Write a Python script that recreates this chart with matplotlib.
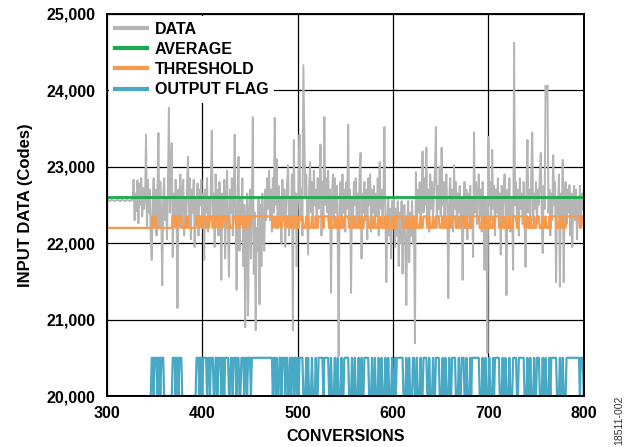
import numpy as np
import matplotlib.pyplot as plt
from matplotlib.ticker import FuncFormatter

# nilai DATA per konversi, 300..800
data = [
    22560, 22570, 22560, 22550, 22560, 22570, 22560, 22560, 22550, 22560,
    22560, 22570, 22560, 22560, 22550, 22560, 22570, 22560, 22560, 22550,
    22560, 22570, 22560, 22560, 22550, 22560, 22570, 22560,
    22830, 22300, 22650, 22420, 22820, 22260, 22780, 22500, 22850, 22350, 22720, 22450,
    22600, 23420, 22200, 22830, 22400, 22700, 22050, 21780, 22550, 22850,
    22300, 22700, 22100, 22650, 23440, 22200, 22800, 22350, 21450, 22600,
    22850, 22300, 22600, 22050, 22800, 23770, 22400, 22900, 23310, 21820,
    22650, 22300, 22830, 22450, 21150, 22700, 22300, 22900, 22200, 22650,
    22830, 22100, 22600, 22350, 22780, 23130, 22250, 22850, 22050, 22700,
    22400, 22830, 21950, 22600, 22300, 22780, 22100, 22700, 22500, 22830,
    22200, 22650, 21780, 22700, 22400, 22850, 22150, 22600, 22300, 22750,
    23470, 22200, 22650, 21950, 22900, 22350, 22700, 22100, 22800, 22400,
    21520, 22650, 22300, 22830, 21800, 22600, 22950, 22200, 21560, 22700,
    22400, 22850, 22100, 22600, 23420, 22300, 21390, 22550, 23130, 21900,
    22600, 22250, 22850, 21700, 22500, 20900, 22300, 22650, 21050, 22400,
    22700, 21800, 22550, 23650, 21600, 22400, 20860, 22200, 21900, 22600,
    21200, 22500, 21700, 22650, 22100, 21900, 22700, 22300, 22850, 22450,
    22950, 22300, 22700, 22150, 22850, 22400, 23640, 22500, 23100, 22200,
    22750, 22350, 22600, 22000, 22830, 22300, 22700, 21950, 22500, 22800,
    23020, 22100, 22600, 22300, 22900, 20860, 23350, 22200, 22650, 21700,
    22400, 22800, 23420, 22300, 22700, 22100, 24330, 23420, 22600, 22900,
    22350, 21850, 22700, 23060, 22400, 22800, 22250, 22950, 22500, 22700,
    22200, 22850, 22450, 22600, 23290, 22100, 22800, 22300, 23650, 22500,
    22850, 22400, 22950, 22200, 22700, 21350, 22600, 22900, 22300, 22850,
    22400, 22750, 22100, 20520, 22600, 22800, 22250, 22900, 22400, 22700,
    22150, 22800, 22450, 23550, 22300, 22700, 21350, 22600, 22250, 22800,
    22500, 22850, 22200, 22650, 22350, 22900, 23180, 21800, 22650, 22400,
    22800, 22300, 22700, 22050, 22850, 22500, 22900, 22150, 22700, 22400,
    22750, 22200, 22650, 22350, 22850, 22100, 23060, 22450, 22700, 22250,
    22600, 23520, 22400, 21490, 22300, 22600, 22100, 22450, 21800, 22550,
    22200, 22600, 21950, 22450, 22100, 22550, 21700, 22400, 22000, 22550,
    21600, 22350, 22500, 21900, 21190, 22300, 22550, 21750, 22400, 22100,
    22550, 22000, 22350, 20690, 22930, 22200, 22700, 22400, 22800, 22300,
    22600, 23200, 22400, 22850, 22500, 23250, 22300, 22700, 22150, 22900,
    22450, 22800, 22300, 22650, 22950, 23520, 22200, 22750, 22450, 23000,
    22350, 23250, 22500, 22800, 22250, 22700, 22900, 22400, 21280, 22600,
    22850, 22300, 22700, 22150, 23020, 22450, 22800, 22200, 22650, 22400,
    22750, 22200, 22600, 21520, 22500, 22800, 22300, 22700, 22050, 22650,
    22350, 22750, 22200, 22600, 21820, 23450, 22400, 22800, 22250, 22650,
    22900, 22350, 22700, 22150, 22800, 22400, 21650, 22600, 22300, 20560,
    23390, 22500, 22800, 22300, 23220, 22450, 22750, 22100, 22700, 22400,
    22850, 22200, 22650, 21850, 22750, 22350, 22600, 22900, 22450, 21320,
    22700, 22300, 22850, 22150, 22600, 22400, 21650, 24620, 22500, 22800,
    22300, 22700, 22100, 22850, 22450, 22650, 22250, 22800, 22500, 21690,
    22750, 23350, 22400, 22700, 22200, 22900, 23450, 22300, 22650, 22450,
    22800, 22250, 22700, 22500, 22900, 23180, 22350, 21870, 22750, 22450,
    24060, 23900, 24060, 22400, 22700, 22100, 22650, 22300, 23150, 22500,
    22800, 21490, 22600, 22350, 22900, 21430, 22650, 22300, 23090, 21490,
    22600, 22800, 22250, 22700, 22400, 22760, 22100, 22650, 21950, 22550,
    22750, 22300, 22700, 22050, 22600, 22350, 22750, 22200, 22650, 22450,
    22700,
]

rata_rata = 22600
ambang_rendah, ambang_tinggi = 22200, 22350
flag_rendah, flag_tinggi = 20000, 20500

# panjang run bergantian (rendah, tinggi, rendah, ...) mulai dari konversi 300
flag_runs = [
    47, 2, 1, 3, 1, 2, 1, 3, 9, 3, 1, 2, 1, 3, 15,
    3, 1, 2, 1, 4, 1, 2, 1, 3, 2, 2, 1, 3, 1, 2, 1, 4, 2, 2, 1, 3, 1, 2, 2, 3, 1, 2, 1, 3, 1,
    22, 1, 2, 1, 1, 2, 2, 1, 3, 1, 2, 2, 1, 1, 2, 1, 2,
    1, 1, 1, 4, 3, 1, 1, 1, 3, 1, 3, 1, 2, 5, 1, 5, 2, 1, 3, 1, 2, 1, 3, 1, 2, 5,
    3, 1, 2, 1, 3, 1, 2, 1, 2, 5, 3, 1, 2, 1, 3, 1, 2, 1, 3, 1, 2, 1, 3, 1, 2, 1, 1, 7,
    3, 1, 2, 1, 3, 2, 2, 1, 3, 1, 2, 4, 2, 1, 3, 1, 2, 4, 3, 1, 2, 1, 3, 1, 2, 4,
    3, 1, 2, 3, 2, 1, 3, 1, 1, 8,
    3, 1, 2, 1, 3, 1, 3, 1, 1, 5, 3, 1, 2, 1, 3, 1, 3, 4, 2, 6,
    3, 1, 2, 1, 3, 1, 2, 3, 3, 1, 2, 1, 3, 1, 1, 6, 3, 1, 2, 1, 3, 14, 1, 3,
]

ambang_runs = [
    48, 1, 1, 2, 17, 3, 1, 2, 1, 3, 4, 1, 1, 1, 8,
    3, 1, 2, 1, 3, 1, 2, 1, 3, 1, 2, 1, 3, 1, 2, 1, 3, 1, 3, 4,
    3, 1, 2, 1, 3, 1, 2, 1, 3, 1, 23, 1, 2, 1, 1, 2, 2, 1, 3, 1, 2, 2, 1, 1, 2, 1, 2,
    1, 1, 1, 4, 3, 1, 1, 1, 3, 1, 3, 1, 2, 5, 1, 5, 2, 1, 3, 1, 2, 1, 3, 1, 2, 5,
    3, 1, 2, 1, 3, 1, 2, 1, 2, 5, 3, 1, 2, 1, 3, 1, 2, 1, 3, 1, 2, 1, 3, 1, 2, 1, 1, 7,
    3, 1, 2, 1, 3, 2, 2, 1, 3, 1, 2, 4, 2, 1, 3, 1, 2, 4, 3, 1, 2, 1, 3, 1, 2, 4,
    3, 1, 2, 3, 2, 1, 3, 1, 1, 8,
    3, 1, 2, 1, 3, 1, 3, 1, 1, 5, 3, 1, 2, 1, 3, 1, 3, 4, 2, 6,
    3, 1, 2, 1, 3, 1, 2, 3, 3, 1, 2, 1, 3, 1, 1, 6, 3, 1, 2, 1, 3, 14, 1, 3,
]


def dari_runs(runs, rendah, tinggi, n):
    hasil = []
    for i, r in enumerate(runs):
        hasil += [tinggi if i % 2 else rendah] * r
    hasil = (hasil + [rendah] * n)[:n]
    return np.array(hasil)


konversi = np.arange(300, 300 + len(data))
n = len(konversi)
flag = dari_runs(flag_runs, flag_rendah, flag_tinggi, n)
ambang = dari_runs(ambang_runs, ambang_rendah, ambang_tinggi, n)

plt.rcParams['font.family'] = ['Liberation Sans', 'DejaVu Sans']
plt.rcParams['font.weight'] = 'bold'

fig = plt.figure(figsize=(6.29, 4.47), dpi=100)
ax = fig.add_axes([0.170, 0.114, 0.758, 0.855])

ax.plot(konversi, data, color='#b5b5b5', lw=1.4, label='DATA', zorder=3)
ax.plot(konversi, np.full(n, rata_rata), color='#17ad4f', lw=2.0, label='AVERAGE', zorder=4)
ax.plot(konversi, ambang, color='#f79a4b', lw=1.6, label='THRESHOLD', zorder=4)
ax.plot(konversi, flag, color='#48a9c5', lw=1.6, label='OUTPUT FLAG', zorder=4)

ax.set_xlim(300, 800)
ax.set_ylim(20000, 25000)
ax.set_xticks([300, 400, 500, 600, 700, 800])
ax.set_yticks([20000, 21000, 22000, 23000, 24000, 25000])
ax.yaxis.set_major_formatter(FuncFormatter(lambda v, p: f'{int(v):,}'))
ax.grid(True, color='black', lw=0.9, zorder=1)
ax.set_axisbelow(True)
ax.tick_params(length=0, labelsize=11.5)
ax.tick_params(axis='y', pad=8)
ax.tick_params(axis='x', pad=7)
for s in ax.spines.values():
    s.set_linewidth(1.4)
    s.set_zorder(6)

ax.set_xlabel('CONVERSIONS', fontsize=11.5, fontweight='bold', labelpad=6)
ax.set_ylabel('INPUT DATA (Codes)', fontsize=12, fontweight='bold', labelpad=10)

leg = ax.legend(loc='upper left', frameon=True, fancybox=False, fontsize=11.5,
                handlelength=2.0, handletextpad=0.5, labelspacing=0.32,
                borderaxespad=0.15, borderpad=0.35)
leg.get_frame().set_edgecolor('none')
leg.get_frame().set_facecolor('white')
leg.get_frame().set_alpha(1)
for h in leg.get_lines():
    h.set_linewidth(3)
leg.set_zorder(5)

fig.text(0.985, 0.06, '18511-002', rotation=90, fontsize=7.5, fontweight='normal',
         ha='center', va='center', color='#333333')

fig.savefig('out.png', dpi=100)
